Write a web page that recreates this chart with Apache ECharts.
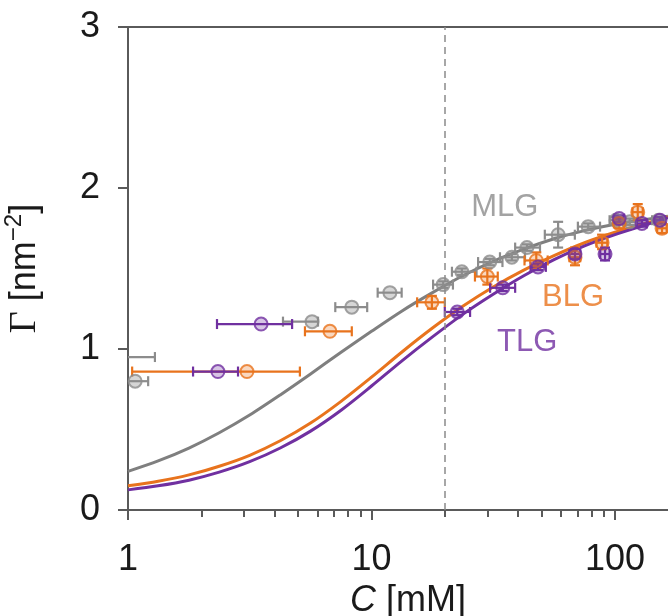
<!DOCTYPE html>
<html>
<head>
<meta charset="utf-8">
<script src="https://cdn.jsdelivr.net/npm/echarts@6/dist/echarts.min.js"></script>
<style>
html,body{margin:0;padding:0;background:#fff;}
#chart{width:668px;height:616px;}
</style>
</head>
<body>
<div id="chart"></div>
<script>
// ---- axis ticks ----
const xMajorTicks = [1, 10, 100];
const xMinorTicks = [2,3,4,5,6,7,8,9,20,30,40,50,60,70,80,90];
const yTicks = [0, 1, 2, 3];
const refLineC = [20];

// ---- fitted curves ----
const curveC   = [1, 1.33, 1.78, 2.37, 3.16, 4.22, 5.62, 7.5, 10, 13.3, 17.8, 23.7, 31.6, 42.2, 56.2, 75, 100, 133, 165];
const mlgCurve = [0.24, 0.305, 0.385, 0.48, 0.59, 0.715, 0.845, 0.98, 1.11, 1.235, 1.35, 1.455, 1.545, 1.62, 1.685, 1.735, 1.775, 1.805, 1.825];
const blgCurve = [0.15, 0.178, 0.218, 0.272, 0.34, 0.43, 0.54, 0.675, 0.825, 0.98, 1.13, 1.265, 1.385, 1.49, 1.58, 1.66, 1.725, 1.78, 1.82];
const tlgCurve = [0.125, 0.15, 0.185, 0.235, 0.30, 0.385, 0.49, 0.62, 0.77, 0.925, 1.075, 1.215, 1.34, 1.455, 1.555, 1.64, 1.71, 1.77, 1.815];

// ---- MLG data ----
const mlgC   = [0.85, 1.07, 5.7, 8.3, 11.9, 19.7, 23.5, 30.6, 37.7, 43.5, 58.4, 77.6, 101, 115, 151];
const mlgG   = [0.95, 0.80, 1.17, 1.26, 1.35, 1.40, 1.48, 1.54, 1.57, 1.63, 1.71, 1.76, 1.80, 1.79, 1.80];
const mlgCLo = [0.55, 0.93, 4.33, 7.1, 10.6, 17.9, 21.4, 27.4, 33.7, 38.9, 51.5, 70.4, 95, 108, 142];
const mlgCHi = [1.29, 1.21, 6.03, 9.6, 13.3, 21.6, 27.0, 34.5, 42.7, 49.2, 68.4, 86.8, 108, 123, 160];
const mlgGLo = [0.95, 0.80, 1.17, 1.26, 1.35, 1.38, 1.46, 1.52, 1.55, 1.61, 1.63, 1.74, 1.78, 1.77, 1.78];
const mlgGHi = [0.95, 0.80, 1.17, 1.26, 1.35, 1.42, 1.50, 1.56, 1.59, 1.65, 1.79, 1.78, 1.82, 1.81, 1.82];

// ---- BLG data ----
const blgC   = [3.08, 6.75, 17.7, 29.9, 47.5, 68.5, 88.5, 104, 124, 156];
const blgG   = [0.86, 1.11, 1.29, 1.45, 1.55, 1.57, 1.66, 1.78, 1.85, 1.75];
const blgCLo = [1.04, 5.33, 15.4, 26.6, 42.5, 65, 84, 99, 118, 149];
const blgCHi = [5.08, 8.3, 20.0, 33.0, 52.9, 72, 93, 109, 130, 163];
const blgGLo = [0.86, 1.11, 1.25, 1.40, 1.50, 1.52, 1.62, 1.75, 1.80, 1.72];
const blgGHi = [0.86, 1.11, 1.33, 1.50, 1.60, 1.63, 1.71, 1.81, 1.90, 1.78];

// ---- TLG data ----
const tlgC   = [2.34, 3.52, 22.5, 34.6, 48.3, 68.5, 91, 104, 129, 153];
const tlgG   = [0.86, 1.155, 1.23, 1.38, 1.51, 1.59, 1.59, 1.81, 1.78, 1.80];
const tlgCLo = [1.85, 2.32, 20.0, 30.7, 45, 65, 87, 99, 123, 146];
const tlgCHi = [2.83, 4.72, 25.4, 38.9, 52, 72, 95, 109, 135, 160];
const tlgGLo = [0.86, 1.155, 1.21, 1.36, 1.49, 1.56, 1.55, 1.79, 1.76, 1.78];
const tlgGHi = [0.86, 1.155, 1.25, 1.40, 1.53, 1.62, 1.63, 1.83, 1.80, 1.82];

// ---- text labels ----
const labelNames = ['MLG', 'BLG', 'TLG'];
const labelC = [35.3, 67.3, 43.6];
const labelG = [1.88, 1.32, 1.04];

const colMLG = '#8c8c8c', colBLG = '#e8731d', colTLG = '#7030a0';
const fillMLG = 'rgba(140,140,140,0.45)', fillBLG = 'rgba(232,115,29,0.35)', fillTLG = 'rgba(112,48,160,0.35)';
const labelColors = [colMLG, colBLG, colTLG];
const X_MAX = Math.pow(10, 540 / 243.5);

function zipCurve(ys){ return curveC.map((c,i)=>[c, ys[i]]); }
function zipPts(c,g){ return c.map((v,i)=>[v,g[i]]); }
function zipErr(c,g,clo,chi,glo,ghi){ return c.map((v,i)=>[v,g[i],clo[i],chi[i],glo[i],ghi[i]]); }

function errRender(color){
  return function(params, api){
    const c = api.value(0), g = api.value(1);
    const pl = api.coord([api.value(2), g]);
    const pr = api.coord([api.value(3), g]);
    const pt = api.coord([c, api.value(5)]);
    const pb = api.coord([c, api.value(4)]);
    const st = {stroke: color, lineWidth: 2.2};
    const cap = 5;
    const ch = [
      {type:'line', shape:{x1:pl[0],y1:pl[1],x2:pr[0],y2:pr[1]}, style:st},
      {type:'line', shape:{x1:pl[0],y1:pl[1]-cap,x2:pl[0],y2:pl[1]+cap}, style:st},
      {type:'line', shape:{x1:pr[0],y1:pr[1]-cap,x2:pr[0],y2:pr[1]+cap}, style:st}
    ];
    if (Math.abs(pt[1]-pb[1]) > 1) {
      ch.push({type:'line', shape:{x1:pt[0],y1:pt[1],x2:pb[0],y2:pb[1]}, style:st});
      ch.push({type:'line', shape:{x1:pt[0]-cap,y1:pt[1],x2:pt[0]+cap,y2:pt[1]}, style:st});
      ch.push({type:'line', shape:{x1:pb[0]-cap,y1:pb[1],x2:pb[0]+cap,y2:pb[1]}, style:st});
    }
    return {type:'group', children: ch};
  };
}

function curveSeries(name, ys, color){
  return {type:'line', name, data: zipCurve(ys), smooth: 0.3, showSymbol:false,
    lineStyle:{color, width:3, join:'round'}, z:2};
}
function errSeries(arr, color){
  return {type:'custom', data: arr, renderItem: errRender(color), clip:true, z:3};
}
function ptSeries(arr, color, fill){
  return {type:'scatter', data: arr, symbol:'circle', symbolSize:13,
    itemStyle:{color: fill, borderColor: color, borderWidth:2}, z:4};
}

const chart = echarts.init(document.getElementById('chart'), null, {renderer:'canvas'});
const FONT = 'Liberation Sans';
chart.setOption({
  animation:false,
  backgroundColor:'#fff',
  grid:{left:128, top:27, right:0, bottom:106, containLabel:false, outerBoundsMode:'none'},
  xAxis:[
    {type:'log', logBase:10, min:1, max:X_MAX, position:'bottom',
     axisLine:{show:true, lineStyle:{color:'#5a5a5a', width:2}},
     axisTick:{show:true, inside:false, length:10, lineStyle:{color:'#5a5a5a', width:2}, customValues: xMajorTicks},
     axisLabel:{show:true, customValues: xMajorTicks, margin:32, color:'#1a1a1a', fontSize:36, fontFamily:FONT,
       formatter: v => String(Math.round(v))},
     splitLine:{show:false}, minorTick:{show:false},
     name:'{i|C} [mM]', nameLocation:'middle', nameGap:70,
     nameTextStyle:{color:'#1a1a1a', fontSize:36, fontFamily:FONT, padding:[0,0,0,20],
       rich:{i:{fontStyle:'italic', fontSize:36, fontFamily:FONT, color:'#1a1a1a'}}}
    },
    {type:'log', logBase:10, min:1, max:X_MAX, position:'bottom',
     axisLine:{show:false},
     axisTick:{show:true, inside:false, length:7, lineStyle:{color:'#5a5a5a', width:2}, customValues: xMinorTicks},
     axisLabel:{show:false}, splitLine:{show:false}
    },
    {type:'value', min:0, max:1, position:'top',
     axisLine:{show:true, lineStyle:{color:'#5a5a5a', width:2}},
     axisTick:{show:false}, axisLabel:{show:false}, splitLine:{show:false}
    }
  ],
  yAxis:{type:'value', min:0, max:3, interval:1,
    axisLine:{show:true, lineStyle:{color:'#5a5a5a', width:2}},
    axisTick:{show:true, inside:false, length:10, lineStyle:{color:'#5a5a5a', width:2}},
    axisLabel:{margin:28, color:'#1a1a1a', fontSize:36, fontFamily:FONT},
    splitLine:{show:false},
    name:'{g|Γ} [nm{s|−2}]', nameLocation:'middle', nameGap:80, nameRotate:90,
    nameTextStyle:{color:'#1a1a1a', fontSize:36, fontFamily:FONT,
      rich:{g:{fontFamily:'Liberation Serif', fontSize:38, color:'#1a1a1a'},
            s:{fontSize:24, fontFamily:FONT, color:'#1a1a1a', padding:[0,0,22,0]}}}
  },
  series:[
    Object.assign(curveSeries('MLG fit', mlgCurve, '#7f7f7f'), {
      markLine:{symbol:'none', silent:true, label:{show:false},
        lineStyle:{color:'#8a8a8a', type:[7,5], width:1.5},
        data: refLineC.map(v=>({xAxis:v}))}
    }),
    curveSeries('BLG fit', blgCurve, colBLG),
    curveSeries('TLG fit', tlgCurve, colTLG),
    errSeries(zipErr(mlgC,mlgG,mlgCLo,mlgCHi,mlgGLo,mlgGHi), colMLG),
    errSeries(zipErr(blgC,blgG,blgCLo,blgCHi,blgGLo,blgGHi), colBLG),
    errSeries(zipErr(tlgC,tlgG,tlgCLo,tlgCHi,tlgGLo,tlgGHi), colTLG),
    ptSeries(zipPts(mlgC,mlgG), colMLG, fillMLG),
    ptSeries(zipPts(blgC,blgG), colBLG, fillBLG),
    ptSeries(zipPts(tlgC,tlgG), colTLG, fillTLG),
    {type:'scatter', symbolSize:0, z:5,
     data: labelNames.map((n,i)=>({value:[labelC[i], labelG[i]], name:n,
       label:{color: labelColors[i]}})),
     label:{show:true, position:'inside', formatter: p => p.name, fontSize:31, fontFamily:FONT}
    }
  ]
});
</script>
</body>
</html>
